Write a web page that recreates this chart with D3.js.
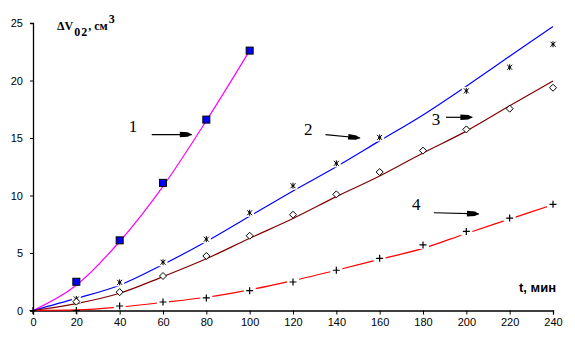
<!DOCTYPE html>
<html>
<head>
<meta charset="utf-8">
<script src="https://cdn.jsdelivr.net/npm/d3@7"></script>
<style>
  body { margin: 0; background: #fff; }
  .tick text { font-family: "Liberation Sans", Arial, sans-serif; font-size: 11px; }
</style>
</head>
<body>
<svg id="chart" width="575" height="360"></svg>
<script>
// measured points
var t1 = [20, 40, 60, 80, 100]
  , v1 = [2.5, 6.1, 11.1, 16.6, 22.6];
var t2 = [20, 40, 60, 80, 100, 120, 140, 160, 200, 220, 240]
  , v2 = [1.0, 2.45, 4.2, 6.2, 8.5, 10.85, 12.8, 15.05, 19.1, 21.15, 23.15];
var t3 = [20, 40, 60, 80, 100, 120, 140, 160, 180, 200, 220, 240]
  , v3 = [0.77, 1.6, 3.0, 4.74, 6.5, 8.33, 10.1, 12.04, 13.9, 15.75, 17.55, 19.37];
var t4 = [0, 20, 40, 60, 80, 100, 120, 140, 160, 180, 200, 220, 240]
  , v4 = [0, 0, 0.39, 0.74, 1.09, 1.72, 2.48, 3.5, 4.54, 5.7, 6.88, 8.04, 9.23];

// fitted curves
var ct1 = [0, 20, 40, 60, 80, 100]
  , cv1 = [0, 2.2, 6.0, 10.8, 16.5, 22.6];
var ct = [0, 20, 40, 60, 80, 100, 120, 140, 160, 180, 200, 220, 240];
var cv2 = [0, 1.05, 2.2, 4.0, 6.0, 8.2, 10.4, 12.5, 14.75, 17.0, 19.5, 22.1, 24.7]
  , cv3 = [0, 0.6, 1.5, 2.95, 4.5, 6.28, 8.0, 9.9, 11.7, 13.7, 15.6, 17.8, 19.96]
  , cv4 = [0, 0.05, 0.3, 0.7, 1.15, 1.8, 2.6, 3.5, 4.45, 5.4, 6.7, 7.95, 9.2];

var xTicks = [0, 20, 40, 60, 80, 100, 120, 140, 160, 180, 200, 220, 240]
  , yTicks = [0, 5, 10, 15, 20, 25];

// curve labels and arrows (data units)
var labelText = ["1", "2", "3", "4"]
  , labelX = [46.1, 127, 186, 176.9]
  , labelY = [15.5, 15.26, 16.1, 8.74];
var arrowX0 = [54.8, 135, 190.6, 185]
  , arrowY0 = [15.3, 15.3, 16.8, 8.5]
  , arrowX1 = [73.3, 151, 202.8, 205.8]
  , arrowY1 = [15.3, 15.0, 16.8, 8.4];

var svg = d3.select("#chart");

var x = d3.scaleLinear().domain([0, 240]).range([33, 553]);
var y = d3.scaleLinear().domain([0, 25]).range([310.5, 23]);

// axes
var xAxis = svg.append("g")
    .attr("transform", "translate(0," + y(0) + ")")
    .call(d3.axisBottom(x).tickValues(xTicks).tickSize(4).tickPadding(4).tickFormat(d3.format("d")));
var yAxis = svg.append("g")
    .attr("transform", "translate(" + x(0) + ",0)")
    .call(d3.axisLeft(y).tickValues(yTicks).tickSize(3).tickPadding(7).tickFormat(d3.format("d")));
svg.selectAll(".domain").attr("stroke", "#000").attr("stroke-width", 1.3);
svg.selectAll(".tick line").attr("stroke", "#000");
svg.selectAll(".tick text").attr("fill", "#000");

// curves
var line = d3.line()
    .x(d => x(d[0]))
    .y(d => y(d[1]))
    .curve(d3.curveMonotoneX);

function drawCurve(ts, vs, color){
  svg.append("path")
    .datum(ts.map((t, i) => [t, vs[i]]))
    .attr("d", line)
    .attr("fill", "none")
    .attr("stroke", color)
    .attr("stroke-width", 1.2);
}
drawCurve(ct1, cv1, "#ff00ff");
drawCurve(ct, cv2, "#0000ff");
drawCurve(ct, cv3, "#800000");
drawCurve(ct, cv4, "#ff0000");

// markers
function pts(ts, vs){ return ts.map((t, i) => [t, vs[i]]); }

// series 1: blue squares
svg.append("g").selectAll("rect")
  .data(pts(t1, v1))
  .enter().append("rect")
  .attr("x", d => x(d[0]) - 3.5)
  .attr("y", d => y(d[1]) - 3.5)
  .attr("width", 7).attr("height", 7)
  .attr("fill", "#0000ff")
  .attr("stroke", "#000").attr("stroke-width", 1);

// series 2: asterisks with white gap
var g2 = svg.append("g").selectAll("g")
  .data(pts(t2, v2))
  .enter().append("g")
  .attr("transform", d => "translate(" + x(d[0]) + "," + y(d[1]) + ")");
g2.append("rect").attr("x", -4.5).attr("y", -4).attr("width", 9).attr("height", 8).attr("fill", "#fff");
g2.append("path")
  .attr("d", "M0,-3L0,3M-2.5,-2.5L2.5,2.5M-2.5,2.5L2.5,-2.5M-1.5,0L1.5,0")
  .attr("stroke", "#000").attr("stroke-width", 1).attr("fill", "none");

// series 3: hollow diamonds
svg.append("g").selectAll("path")
  .data(pts(t3, v3))
  .enter().append("path")
  .attr("transform", d => "translate(" + x(d[0]) + "," + y(d[1]) + ")")
  .attr("d", "M0,-3.5L3.5,0L0,3.5L-3.5,0Z")
  .attr("fill", "#fff")
  .attr("stroke", "#000").attr("stroke-width", 1);

// series 4: plus signs with white gap
var g4 = svg.append("g").selectAll("g")
  .data(pts(t4, v4))
  .enter().append("g")
  .attr("transform", d => "translate(" + x(d[0]) + "," + y(d[1]) + ")");
g4.filter(d => d[1] > 0).append("rect").attr("x", -6).attr("y", -4).attr("width", 12).attr("height", 8).attr("fill", "#fff");
g4.append("path")
  .attr("d", "M-3.5,0L3.5,0M0,-3.5L0,3.5")
  .attr("stroke", "#000").attr("stroke-width", 1.2).attr("fill", "none");

// number labels
svg.append("g").selectAll("text")
  .data(labelText)
  .enter().append("text")
  .attr("x", (d, i) => x(labelX[i]))
  .attr("y", (d, i) => y(labelY[i]))
  .attr("text-anchor", "middle")
  .style("font-family", "'Liberation Serif', 'Times New Roman', serif")
  .style("font-size", "17px")
  .text(d => d);

// arrows
labelText.forEach(function(d, i){
  var x0 = x(arrowX0[i]), y0 = y(arrowY0[i]), x1 = x(arrowX1[i]), y1 = y(arrowY1[i]);
  var ang = Math.atan2(y1 - y0, x1 - x0);
  var g = svg.append("g").attr("transform", "translate(" + x1 + "," + y1 + ") rotate(" + (ang * 180 / Math.PI) + ")");
  var len = Math.hypot(x1 - x0, y1 - y0);
  g.append("line").attr("x1", -len).attr("y1", 0).attr("x2", 0).attr("y2", 0)
    .attr("stroke", "#000").attr("stroke-width", 1.2);
  g.append("path").attr("d", "M-12,-2.8L-4,-2.2L0,0L-4,2.2L-12,2.8Z").attr("fill", "#000");
});

// axis titles
var yTitle = svg.append("text")
  .attr("x", 57).attr("y", 30)
  .style("font-family", "'Liberation Serif', 'Times New Roman', serif")
  .style("font-size", "12px")
  .style("font-weight", "bold");
yTitle.append("tspan").text("ΔV");
yTitle.append("tspan").attr("dy", 6).attr("dx", 1).style("letter-spacing", "1px").text("02");
yTitle.append("tspan").attr("dy", -6).text(", см");
yTitle.append("tspan").attr("dy", -7).attr("dx", 1).text("3");

svg.append("text")
  .attr("x", 556).attr("y", 292)
  .attr("text-anchor", "end")
  .style("font-family", "'Liberation Sans', Arial, sans-serif")
  .style("font-size", "13px")
  .style("font-weight", "bold")
  .text("t, мин");
</script>
</body>
</html>
